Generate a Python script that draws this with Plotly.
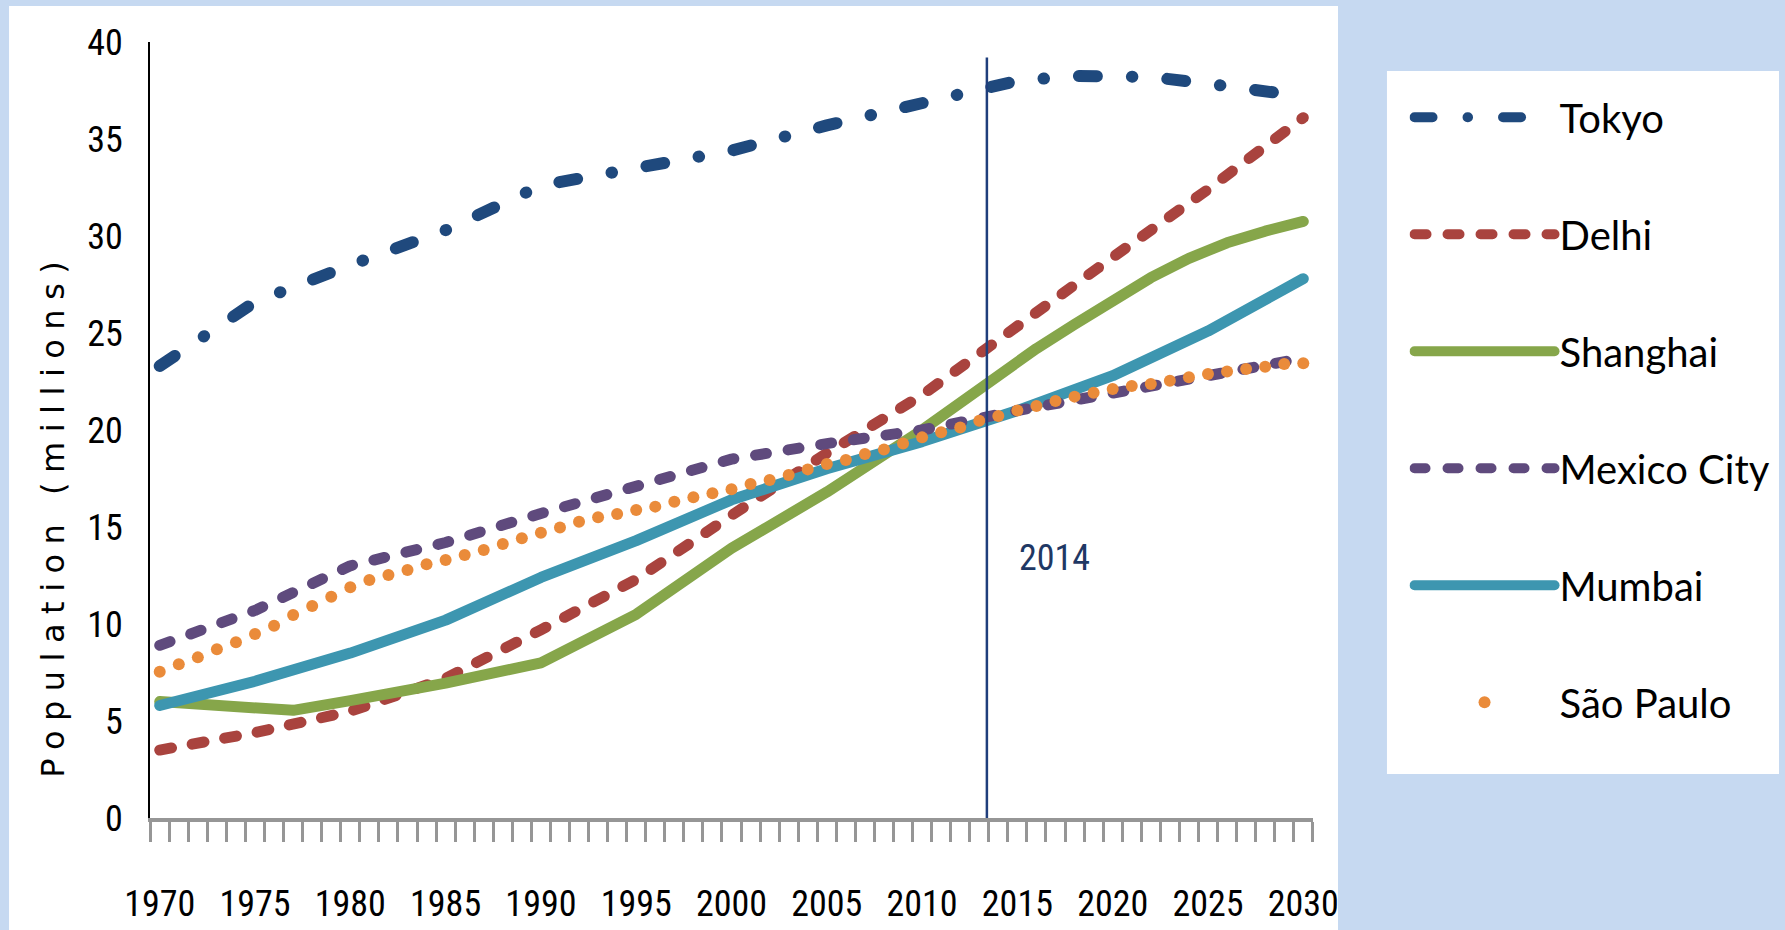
import plotly.graph_objects as go

# ---------------- data (millions) ----------------
years_5 = [1970, 1975, 1980, 1985, 1990, 1995, 2000, 2005, 2010, 2015, 2020, 2025, 2030]

tokyo_years = [1970, 1975, 1980, 1985, 1990, 1995, 2000, 2005, 2010, 2015, 2018, 2020, 2022,
               2025, 2027, 2030]
tokyo = [23.3, 26.6, 28.5, 30.3, 32.6, 33.5, 34.4, 35.7, 36.8, 38.0, 38.25, 38.3, 38.2,
         37.85, 37.6, 37.2]
delhi = [3.5, 4.4, 5.5, 7.2, 9.7, 12.3, 15.6, 18.8, 21.8, 25.4, 28.9, 32.4, 36.1]
shanghai_years = [1970, 1977, 1980, 1985, 1990, 1995, 2000, 2005, 2010, 2012, 2014, 2016,
                  2018, 2020, 2022, 2024, 2026, 2028, 2030]
shanghai = [6.0, 5.55, 6.05, 6.95, 8.0, 10.5, 13.9, 16.8, 20.0, 21.45, 22.9, 24.2,
            25.45, 26.7, 27.85, 28.85, 29.65, 30.25, 30.75]
mexico_city = [8.9, 10.7, 13.0, 14.2, 15.7, 17.1, 18.5, 19.3, 20.0, 21.0, 21.9, 22.8, 23.7]
mumbai = [5.8, 7.05, 8.5, 10.2, 12.4, 14.3, 16.4, 18.0, 19.4, 21.0, 22.8, 25.1, 27.8]

years_annual = list(range(1970, 2031))
sao_paulo = [7.54, 7.92, 8.28, 8.70, 9.06, 9.48, 9.91, 10.46, 10.93, 11.41,
             11.89, 12.27, 12.53, 12.78, 13.08, 13.30, 13.56, 13.81, 14.12, 14.42,
             14.70, 14.98, 15.27, 15.50, 15.67, 15.88, 16.05, 16.30, 16.53, 16.74,
             16.94, 17.22, 17.42, 17.68, 17.97, 18.25, 18.45, 18.76, 19.00, 19.31,
             19.62, 19.88, 20.13, 20.48, 20.72, 21.00, 21.24, 21.49, 21.72, 21.92,
             22.11, 22.27, 22.37, 22.54, 22.72, 22.89, 23.01, 23.14, 23.26, 23.40,
             23.44]

x_tick_years = list(range(1970, 2031, 5))
x_tick_labels = [str(y) for y in x_tick_years]
y_tick_vals = list(range(0, 41, 5))

ref_line_year = 2013.4      # position of the drawn reference line
ref_line_top = 39.2
ref_label = "2014"
ref_label_y = 13.4
y_title = "Population (millions)"

# ---------------- styles ----------------
C_TOKYO = "#1F497D"
C_DELHI = "#A9433E"
C_SHANGHAI = "#86A64A"
C_MEXICO = "#5F4A7D"
C_MUMBAI = "#3D96B0"
C_SAO = "#EA8B3A"
BG = "#C6D9F1"
NARROW = "Liberation Sans Narrow, Arial Narrow, Roboto Condensed, sans-serif"
LEG_FONT = "Lato, Calibri, Carlito, sans-serif"

fig = go.Figure()

fig.add_trace(go.Scatter(x=tokyo_years, y=tokyo, name="Tokyo", mode="lines", legendrank=1,
                         legendgroup="a",
                         line=dict(color=C_TOKYO, width=12, dash="18px,35px,0.5px,35px")))
fig.add_trace(go.Scatter(x=years_5, y=delhi, name="Delhi", mode="lines", legendrank=2,
                         legendgroup="b",
                         line=dict(color=C_DELHI, width=11, dash="12px,21px")))
fig.add_trace(go.Scatter(x=shanghai_years, y=shanghai, name="Shanghai", mode="lines", legendrank=3,
                         legendgroup="c",
                         line=dict(color=C_SHANGHAI, width=11)))
fig.add_trace(go.Scatter(x=years_5, y=mumbai, name="Mumbai", mode="lines", legendrank=5,
                         legendgroup="e",
                         line=dict(color=C_MUMBAI, width=11)))
fig.add_trace(go.Scatter(x=years_5, y=mexico_city, name="Mexico City", mode="lines", legendrank=4,
                         legendgroup="d",
                         line=dict(color=C_MEXICO, width=11, dash="11px,22px")))
fig.add_trace(go.Scatter(x=years_annual, y=sao_paulo, name="São Paulo", mode="markers", legendrank=6,
                         legendgroup="f",
                         marker=dict(color=C_SAO, size=12, line=dict(width=0))))

# reference line and label
fig.add_shape(type="line", xref="x", yref="y", x0=ref_line_year, x1=ref_line_year,
              y0=0, y1=ref_line_top, line=dict(color="#1F3E7C", width=2.5), layer="above")
fig.add_annotation(x=ref_line_year, y=ref_label_y, xref="x", yref="y", text=ref_label,
                   showarrow=False, xanchor="left", xshift=30,
                   font=dict(family=NARROW, size=36, color="#1F3864"))

# white chart area and legend box
fig.add_shape(type="rect", xref="paper", yref="paper", x0=-0.1212, x1=1.0215, y0=-0.16, y1=1.0464,
              fillcolor="white", line=dict(width=0), layer="below")
fig.add_shape(type="rect", xref="paper", yref="paper", x0=1.0636, x1=1.4007, y0=0.0567, y1=0.9626,
              fillcolor="white", line=dict(width=0), layer="below")

# y-axis title
fig.add_annotation(x=-0.0834, y=0.3905, xref="paper", yref="paper", text=y_title,
                   textangle=-90, showarrow=False, xanchor="center", yanchor="middle",
                   font=dict(family="DejaVu Sans", size=32, color="black"))

fig.update_layout(
    width=1785, height=930,
    margin=dict(l=150, r=472, t=42, b=112, autoexpand=False),
    paper_bgcolor=BG, plot_bgcolor="white",
    showlegend=True,
    legend=dict(x=1.083, y=0.945, xanchor="left", yanchor="top",
                bgcolor="rgba(0,0,0,0)", font=dict(family=LEG_FONT, size=40, color="black"),
                tracegroupgap=62, itemwidth=140, traceorder="grouped"),
    xaxis=dict(range=[1969.49, 2030.51], tickmode="array", tickvals=x_tick_years,
               ticktext=x_tick_labels, ticks="", showgrid=False, zeroline=False,
               showline=True, linecolor="#969696", linewidth=3.5, automargin=False,
               tickfont=dict(family=NARROW, size=36, color="black"),
               ticklabelstandoff=51,
               minor=dict(ticks="outside", tickmode="linear", tick0=1969.5, dtick=1,
                          ticklen=20, tickwidth=2.5, tickcolor="#969696", showgrid=False)),
    yaxis=dict(range=[0, 40], tickmode="array", tickvals=y_tick_vals, ticks="",
               showgrid=False, zeroline=False, showline=True, linecolor="black", linewidth=2,
               automargin=False,
               tickfont=dict(family=NARROW, size=36, color="black"), ticklabelstandoff=18),
)

post_js = """
document.body.style.margin = '0';
document.body.style.background = '%s';
var gd = document.getElementById('{plot_id}');
gd.querySelectorAll('path.js-line').forEach(function(p){
    p.style.strokeLinecap = 'round';
    p.style.strokeLinejoin = 'round';
});
gd.querySelectorAll('text').forEach(function(t){
    if (t.textContent === '%s') { t.style.letterSpacing = '9.5px'; }
});
""" % (BG, y_title)

fig.write_html("out.html", post_script=post_js, config={"displayModeBar": False})
